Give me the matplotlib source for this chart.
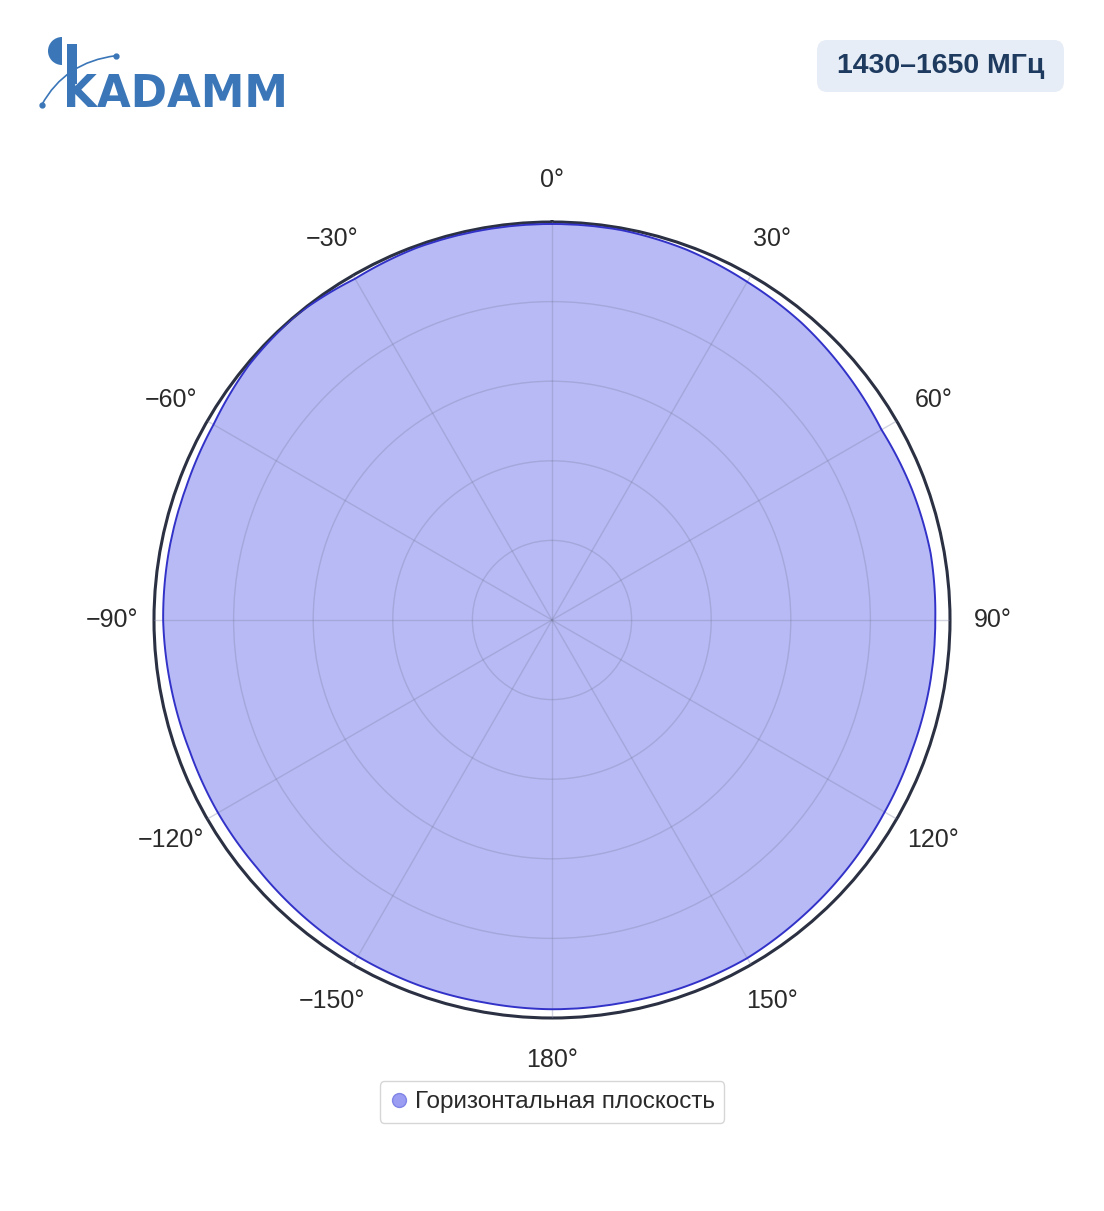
import numpy as np
import matplotlib
matplotlib.use("Agg")
import matplotlib.pyplot as plt
from matplotlib.patches import FancyBboxPatch, Wedge, Rectangle, PathPatch
from matplotlib.path import Path
from matplotlib.lines import Line2D

plt.rcParams['font.family'] = ['Liberation Sans', 'DejaVu Sans']

# ---- data ----
angles_deg = [0, 10, 20, 30, 40, 50, 60, 70, 80, 90, 100, 110,
              120, 130, 140, 150, 160, 170, 180, 190, 200, 210, 220, 230,
              240, 250, 260, 270, 280, 290, 300, 310, 320, 330, 340, 350]
gain = [0.995, 0.995, 0.99, 0.981, 0.975, 0.965, 0.956, 0.962, 0.966, 0.963, 0.963, 0.962,
        0.965, 0.970, 0.975, 0.981, 0.980, 0.978, 0.978, 0.976, 0.977, 0.976, 0.972, 0.968,
        0.969, 0.968, 0.972, 0.977, 0.978, 0.978, 0.982, 0.995, 1.0, 0.99, 0.995, 0.995]
tick_angles = [0, 30, 60, 90, 120, 150, 180, 210, 240, 270, 300, 330]
tick_labels = ['0°', '30°', '60°', '90°', '120°', '150°', '180°',
               '−150°', '−120°', '−90°', '−60°', '−30°']
series_name = 'Горизонтальная плоскость'
band_label = '1430–1650 МГц'
logo_text = 'KADAMM'

W, H = 1104, 1211
fig = plt.figure(figsize=(W / 100, H / 100), dpi=100)

def fx(px):
    return px / W

def fy(py):
    return 1 - py / H

cx, cy, R = 552, 620, 398
ax = fig.add_axes([fx(cx - R), fy(cy + R), 2 * R / W, 2 * R / H], projection='polar')
ax.set_theta_zero_location('N')
ax.set_theta_direction(-1)
ax.set_ylim(0, 1)
ax.set_facecolor('white')

# close the loop at 360 deg so the curve continues forward
th = np.deg2rad(np.array(angles_deg + [angles_deg[0] + 360]))
rr = np.array(gain + [gain[0]])
poly = ax.fill(th, rr, color='#b7baf5', zorder=1, lw=0)[0]
poly.get_path()._interpolation_steps = 30
line = ax.plot(th, rr, color='#3232c8', lw=1.4, zorder=3)[0]
line.get_path()._interpolation_steps = 30

ax.set_axisbelow(False)
ax.set_rticks([0.2, 0.4, 0.6, 0.8])
ax.set_yticklabels([])
ax.set_thetagrids(tick_angles, tick_labels)
ax.grid(True, color='#7f84a8', alpha=0.35, lw=1.0)
ax.tick_params(axis='x', pad=20, labelsize=18, labelcolor='#2a2a2a')
ax.spines['polar'].set_color('#2b3142')
ax.spines['polar'].set_linewidth(2.2)

# legend
handle = Line2D([], [], marker='o', linestyle='none', markersize=10,
                markerfacecolor='#9a9df2', markeredgecolor='#8185e6')
leg = fig.legend([handle], [series_name], loc='center',
                 bbox_to_anchor=(fx(552), fy(1102)), fontsize=17.5,
                 frameon=True, fancybox=True, edgecolor='#cccccc',
                 handletextpad=0.25, borderpad=0.4, handlelength=0.8,
                 borderaxespad=0)
leg.get_frame().set_linewidth(1.0)
for t in leg.get_texts():
    t.set_color('#2a2a2a')

# badge
badge = FancyBboxPatch((fx(817), fy(92)), fx(1064) - fx(817), fy(40) - fy(92),
                       boxstyle='round,pad=0,rounding_size=0.009',
                       transform=fig.transFigure, facecolor='#e6edf6',
                       edgecolor='none', zorder=5)
fig.patches.append(badge)
fig.text(fx(940.5), fy(66), band_label, ha='center', va='center',
         fontsize=20.5, fontweight='bold', color='#1e3a5f', zorder=6)

# logo
blue = '#3a76b8'
logo_ax = fig.add_axes([0, 0, 1, 1], zorder=-1)
logo_ax.set_xlim(0, W)
logo_ax.set_ylim(H, 0)
logo_ax.axis('off')
logo_ax.add_patch(Wedge((62, 51), 14, 90, 270, facecolor=blue, edgecolor='none'))
logo_ax.add_patch(Rectangle((67, 44), 9.5, 40, facecolor=blue, edgecolor='none'))
logo_ax.text(63, 107, logo_text, ha='left', va='baseline', fontsize=31.5,
             fontweight='bold', color=blue, family='DejaVu Sans')
curve = Path([(41.7, 105), (65, 62), (116, 55.7)],
             [Path.MOVETO, Path.CURVE3, Path.CURVE3])
logo_ax.add_patch(PathPatch(curve, facecolor='none', edgecolor=blue, lw=1.2))
logo_ax.plot([41.7, 116], [105, 55.7], 'o', color=blue, markersize=3.5)

fig.savefig('out.png', dpi=100, facecolor='white')
